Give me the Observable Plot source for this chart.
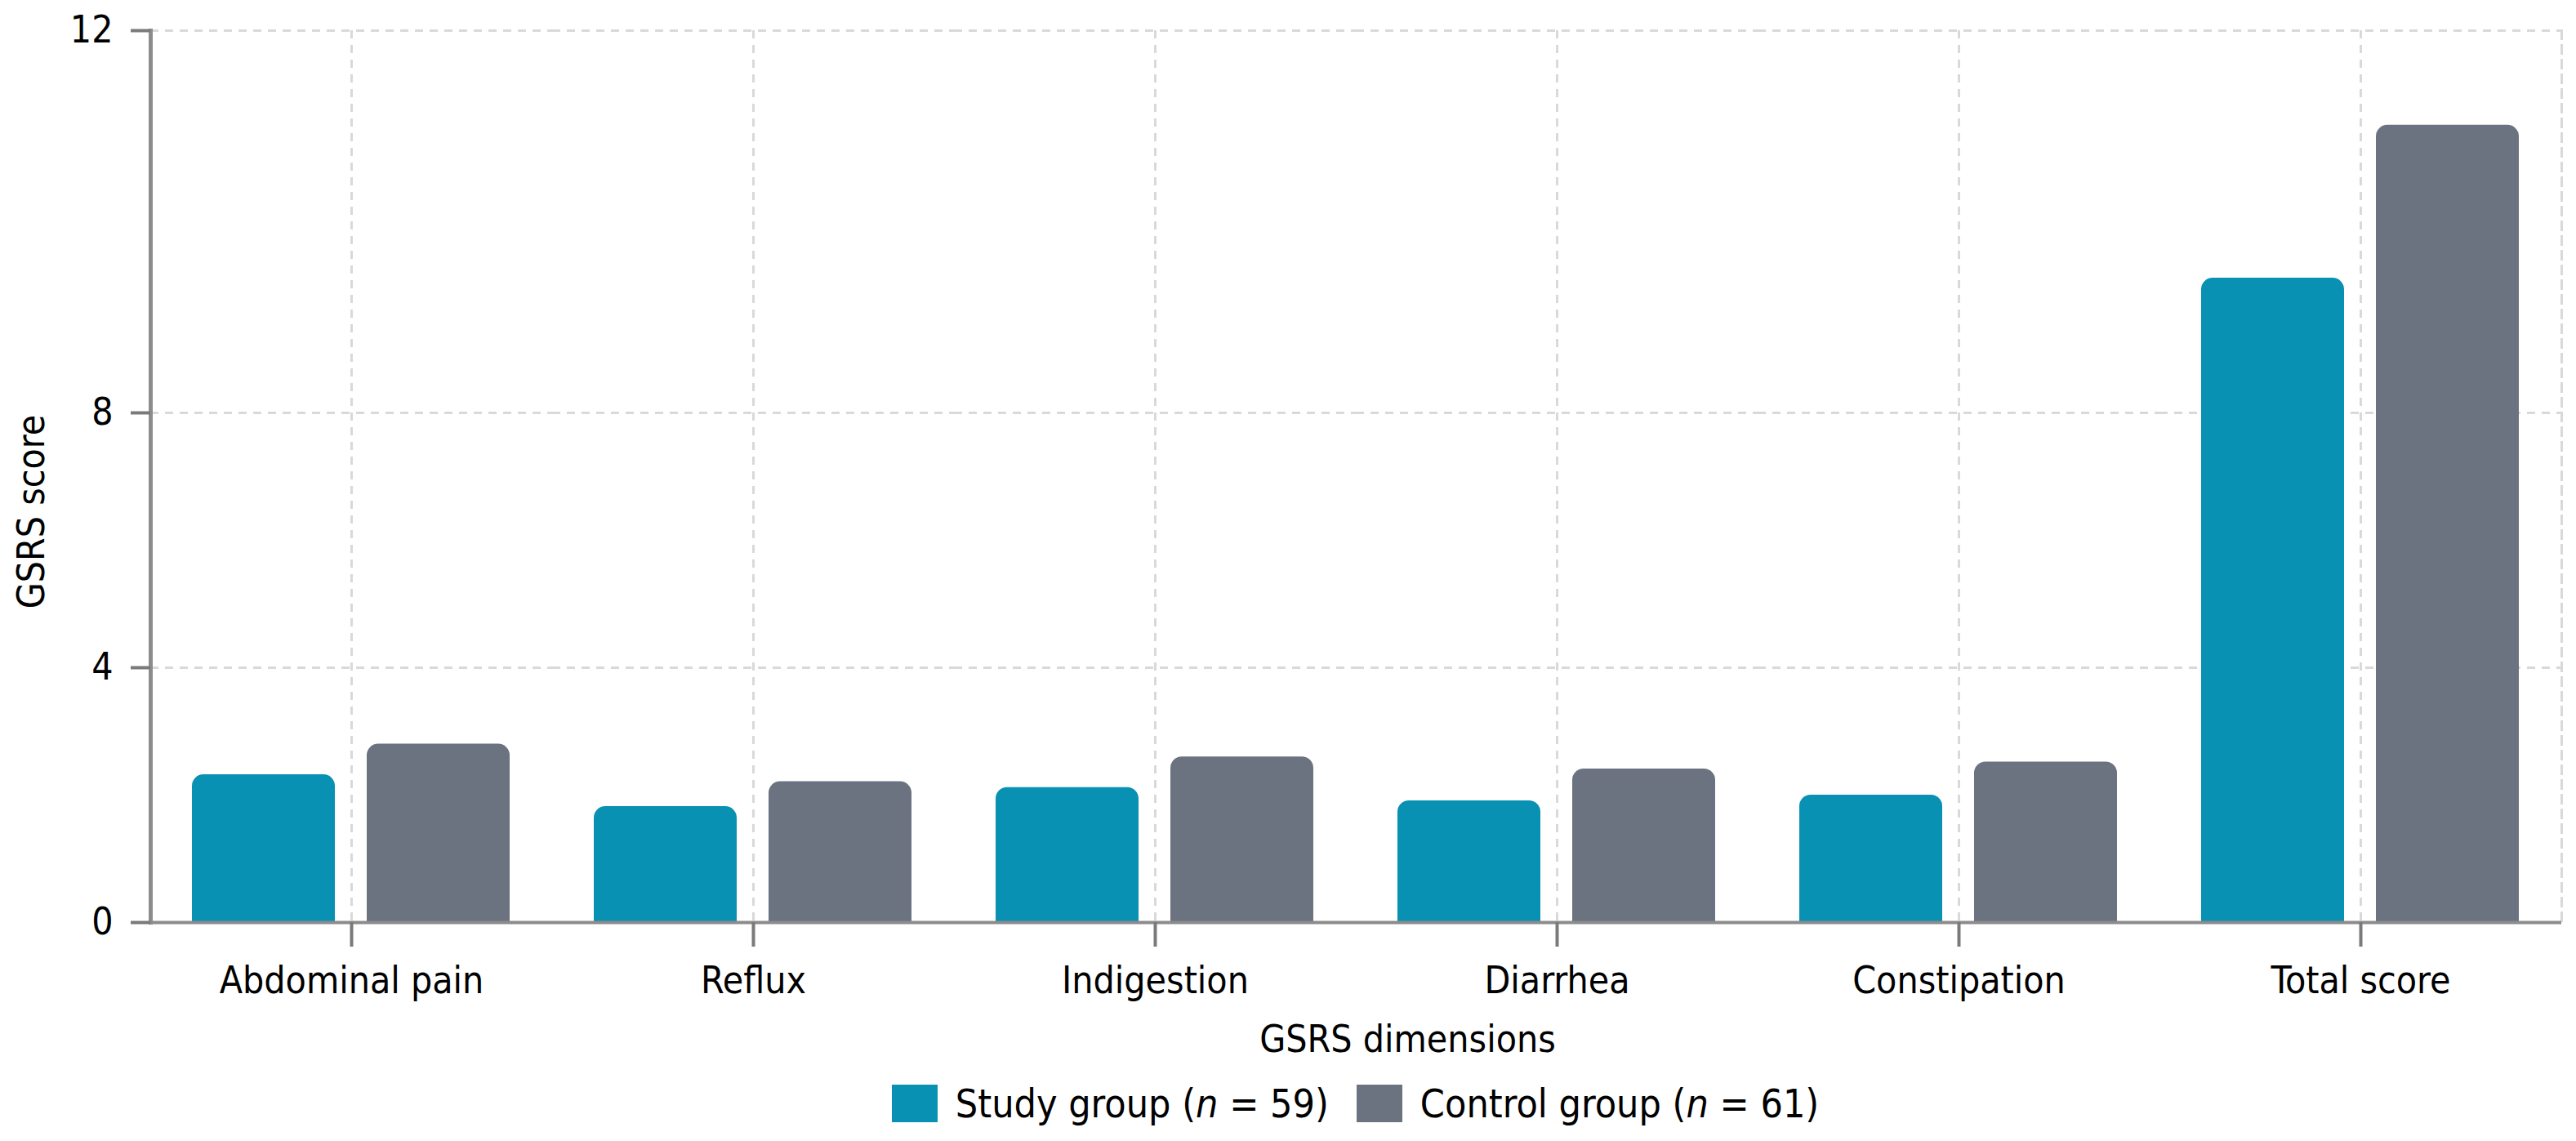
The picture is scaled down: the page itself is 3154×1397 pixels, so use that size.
<!DOCTYPE html>
<html><head><meta charset="utf-8">
<script src="https://cdn.jsdelivr.net/npm/d3@7"></script>
<script src="https://cdn.jsdelivr.net/npm/@observablehq/plot@0.6"></script>
<style>
html,body{margin:0;padding:0;background:#fff;}
body{font-family:"DejaVu Sans Condensed","DejaVu Sans",sans-serif;width:3154px;}
#legend{margin-left:181px;width:2957px;height:92px;display:flex;justify-content:center;align-items:center;font-size:48px;color:#000;}
.sw{width:56px;height:46px;display:inline-block;margin-right:22px;}
.item{display:flex;align-items:center;margin:0 17px;white-space:pre;}
</style></head><body>
<div id="chart"></div><div id="legend"></div>
<script>
const categories = ["Abdominal pain","Reflux","Indigestion","Diarrhea","Constipation","Total score"];
const groups = ["Study group","Control group"];
const groupN = [59, 61];
const studyValues = [2.32, 1.82, 2.12, 1.91, 2.00, 9.41];
const controlValues = [2.80, 2.21, 2.60, 2.41, 2.52, 11.01];
const yTicks = [0, 4, 8, 12];
const colors = ["#0891b2", "#6b7280"];

const data = categories.flatMap((c, i) => [
  {category: c, group: groups[0], value: studyValues[i]},
  {category: c, group: groups[1], value: controlValues[i]}
]);

const W = 3154, H = 1305;
const gridStyle = {stroke: "#d9d9d9", strokeOpacity: 1, strokeWidth: 3, strokeDasharray: "10,8"};
const chart = Plot.plot({
  width: W, height: H,
  marginLeft: 181, marginRight: 16, marginTop: 37, marginBottom: H - 1129,
  style: {fontFamily: '"DejaVu Sans Condensed","DejaVu Sans",sans-serif', fontSize: "46px", color: "#000", background: "#fff"},
  fx: {domain: categories, padding: 0, axis: null, label: null},
  x: {domain: groups, paddingInner: 0.181, paddingOuter: 0.236, axis: null},
  y: {type: "linear", domain: [0, 8, 12], range: [1129, 505, 37], axis: null},
  color: {domain: groups, range: colors},
  marks: [
    Plot.gridY(yTicks.slice(1), gridStyle),
    Plot.gridFx(gridStyle),
    Plot.frame({anchor: "right", facet: "super", ...gridStyle}),
    Plot.barY(data, {fx: "category", x: "group", y: "value", fill: "group", ry1: 14}),
    Plot.ruleY([0], {stroke: "#8c8c8c", strokeWidth: 4}),
    Plot.frame({anchor: "left", facet: "super", stroke: "#8c8c8c", strokeWidth: 5}),
    Plot.axisY(yTicks, {tickSize: 24, tickPadding: 22, tickFormat: d3.format("d"), stroke: "#7a7a7a", strokeWidth: 4, label: null, fill: "#000"}),
    Plot.axisFx({anchor: "bottom", tickSize: 30, tickPadding: 24, stroke: "#7a7a7a", strokeWidth: 4, label: null, fill: "#000"}),
    Plot.text(["GSRS dimensions"], {frameAnchor: "bottom", lineAnchor: "middle", textAnchor: "middle", dx: 63, dy: 144, facet: "super", fill: "#000"}),
    Plot.text(["GSRS score"], {frameAnchor: "left", rotate: -90, textAnchor: "middle", lineAnchor: "middle", dx: -145, dy: 43, facet: "super", fill: "#000"})
  ]
});
document.getElementById("chart").appendChild(chart);

document.getElementById("legend").innerHTML = groups.map((g, i) =>
  `<span class="item"><span class="sw" style="background:${colors[i]}"></span>${g} (<i>n</i> = ${groupN[i]})</span>`
).join("");
</script>
</body></html>
